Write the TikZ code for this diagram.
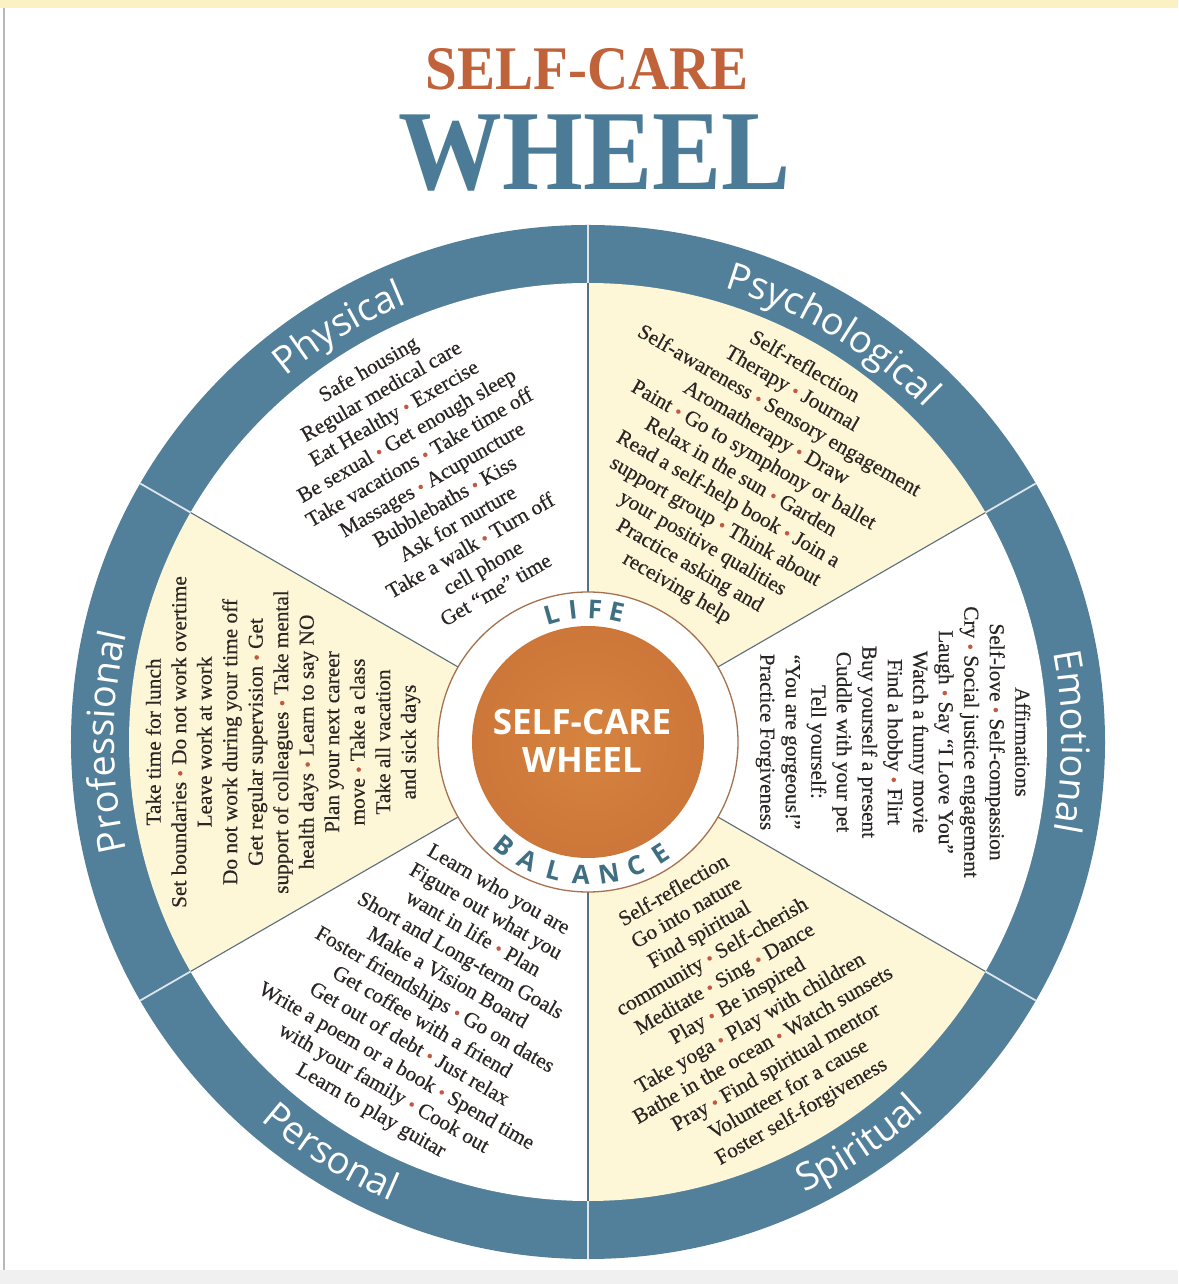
\documentclass[tikz,border=0pt]{standalone}
\usepackage{fontspec}
\setmainfont{Liberation Serif}
\newfontfamily\itemfont[FakeBold=0.35]{Liberation Serif}
\newfontfamily\labelfont{Open Sans}
\newfontfamily\titlefont{Liberation Serif}
\usetikzlibrary{decorations.text}
\definecolor{ringblue}{HTML}{527F9A}
\definecolor{cream}{HTML}{FDF6D7}
\definecolor{titleorange}{HTML}{C0623A}
\definecolor{titleblue}{HTML}{4B7B97}
\definecolor{bulc}{HTML}{C4573F}
\definecolor{divgray}{HTML}{5A6E7C}
\definecolor{rimbrown}{HTML}{A5714E}
\definecolor{lifeblue}{HTML}{3F6F83}
\definecolor{orangein}{HTML}{D6833F}
\definecolor{orangeout}{HTML}{B95D2E}
\definecolor{textdark}{HTML}{2B2624}
\definecolor{topband}{HTML}{FCF1C3}
\newcommand{\bul}{\scalebox{0.85}{\color{bulc}•}}
\newcommand{\lblfmt}{\labelfont\fontsize{38}{40}\selectfont\color{white}}
\pgfdeclareradialshading{orangeball}{\pgfpoint{0bp}{0bp}}{color(0bp)=(orangein); color(30bp)=(orangein!60!orangeout); color(50bp)=(orangeout); color(100bp)=(orangeout)}
\begin{document}
\begin{tikzpicture}[x=1pt,y=1pt,
  item/.style={align=center, text=textdark, font=\itemfont\fontsize{21.3}{25.5}\selectfont, inner sep=0pt},
  lifeletter/.style={text=lifeblue, font=\labelfont\bfseries\fontsize{26}{26}\selectfont, inner sep=0pt},
  divider/.style={divgray, line width=1.1pt},
  ringsep/.style={white!80!ringblue, line width=1.8pt}
]
% background and frame
\useasboundingbox (-588,742) rectangle (590,-542);
\fill[white] (-588,742) rectangle (590,-542);
\fill[topband] (-588,742) rectangle (590,734);
\fill[black!6] (-588,-528) rectangle (590,-542);
\draw[gray!55, line width=1.5pt] (-584,734) -- (-584,-528);

% title
\node[font=\titlefont\bfseries\fontsize{62}{62}\selectfont, text=titleorange, anchor=base, inner sep=0pt] (title1) at (-1,652) {\scalebox{0.92}[1]{SELF-CARE}};
\node[font=\titlefont\bfseries\fontsize{114}{114}\selectfont, text=titleblue, anchor=base, inner sep=0pt] (title2) at (7,552) {\scalebox{0.91}[1]{WHEEL}};

% ring and sectors
\fill[ringblue] (0,0) circle[radius=517];
\foreach \a/\c in {30/cream, 90/white, 150/cream, 210/white, 270/cream, 330/white}
  \fill[\c] (0,0) -- (\a:459) arc[start angle=\a, end angle=\a+60, radius=459] -- cycle;
\foreach \a in {30,90,150,210,270,330}{
  \draw[divider] (\a:150) -- (\a:459);
  \draw[ringsep] (\a:459) -- (\a:517);
}

% sector labels on the ring
\path[decorate, decoration={text along path, text align=center, text={|\lblfmt|Physical}}]
  (151:474) arc[start angle=151, end angle=91, radius=474];
\path[decorate, decoration={text along path, text align=center, text={|\lblfmt|Psychological}}]
  (89:474) arc[start angle=89, end angle=29, radius=474];
\path[decorate, decoration={text along path, text align=center, text={|\lblfmt|Emotional}}]
  (30:474) arc[start angle=30, end angle=-30, radius=474];
\path[decorate, decoration={text along path, text align=center, text={|\lblfmt|Professional}}]
  (210:474) arc[start angle=210, end angle=150, radius=474];
\path[decorate, decoration={text along path, text align=center, text={|\lblfmt|Spiritual}}]
  (-86:500) arc[start angle=-86, end angle=-26, radius=500];
\path[decorate, decoration={text along path, text align=center, text={|\lblfmt|Personal}}]
  (208:500) arc[start angle=208, end angle=268, radius=500];

% sector contents
\node[item, rotate=30] (physical) at (120.7:306) {Safe housing\\
Regular medical care\\
Eat Healthy \bul{} Exercise\\
Be sexual \bul{} Get enough sleep\\
Take vacations \bul{} Take time off\\
Massages \bul{} Acupuncture\\
Bubblebaths \bul{} Kiss\\
Ask for nurture\\
Take a walk \bul{} Turn off\\
cell phone\\
Get “me” time};

\node[item, rotate=-30] (psychological) at (60:305) {Self-reflection\\
Therapy \bul{} Journal\\
Self-awareness \bul{} Sensory engagement\\
Aromatherapy \bul{} Draw\\
Paint \bul{} Go to symphony or ballet\\
Relax in the sun \bul{} Garden\\
Read a self-help book \bul{} Join a\\
support group \bul{} Think about\\
your positive qualities\\
Practice asking and\\
receiving help};

\node[item, rotate=-90] (emotional) at (0:305) {Affirmations\\
Self-love \bul{} Self-compassion\\
Cry \bul{} Social justice engagement\\
Laugh \bul{} Say “I Love You”\\
Watch a funny movie\\
Find a hobby \bul{} Flirt\\
Buy yourself a present\\
Cuddle with your pet\\
Tell yourself:\\
“You are gorgeous!”\\
Practice Forgiveness};

\node[item, rotate=30] (spiritual) at (-60:300) {Self-reflection\\
Go into nature\\
Find spiritual\\
community \bul{} Self-cherish\\
Meditate \bul{} Sing \bul{} Dance\\
Play \bul{} Be inspired\\
Take yoga \bul{} Play with children\\
Bathe in the ocean \bul{} Watch sunsets\\
Pray \bul{} Find spiritual mentor\\
Volunteer for a cause\\
Foster self-forgiveness};

\node[item, rotate=-30] (personal) at (239.3:301) {Learn who you are\\
Figure out what you\\
want in life \bul{} Plan\\
Short and Long-term Goals\\
Make a Vision Board\\
Foster friendships \bul{} Go on dates\\
Get coffee with a friend\\
Get out of debt \bul{} Just relax\\
Write a poem or a book \bul{} Spend time\\
with your family \bul{} Cook out\\
Learn to play guitar};

\node[item, rotate=90] (professional) at (180:305) {Take time for lunch\\
Set boundaries \bul{} Do not work overtime\\
Leave work at work\\
Do not work during your time off\\
Get regular supervision \bul{} Get\\
support of colleagues \bul{} Take mental\\
health days \bul{} Learn to say NO\\
Plan your next career\\
move \bul{} Take a class\\
Take all vacation\\
and sick days};

% hub
\filldraw[fill=white, draw=rimbrown, line width=1.3pt] (0,0) circle[radius=150];
\shade[shading=orangeball] (0,0) circle[radius=116];
\node[font=\labelfont\bfseries\fontsize{35}{38}\selectfont, text=white, align=center, inner sep=0pt] (hubtext) at (-6,1) {SELF-CARE\\WHEEL};
\foreach \ch/\ang [count=\i] in {L/106, I/96.5, F/87, E/77.5}
  \node[lifeletter, rotate=\ang-90] (life\i) at (\ang:133) {\ch};
\foreach \ch/\ang [count=\i] in {B/231, A/243, L/255, A/267, N/279, C/291, E/303}
  \node[lifeletter, rotate=\ang+90] (bal\i) at (\ang:133) {\ch};
\end{tikzpicture}
\end{document}
